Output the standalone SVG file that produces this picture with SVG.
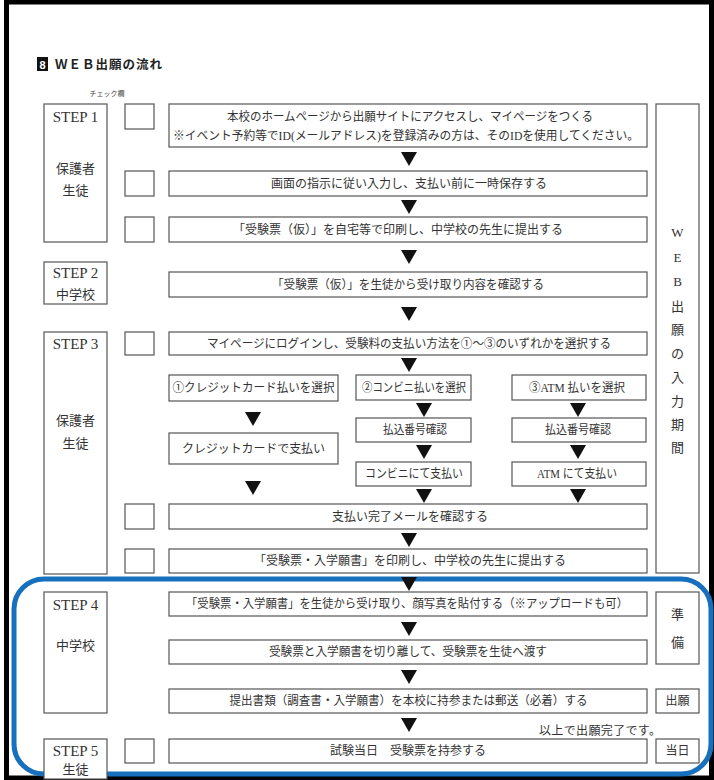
<svg xmlns="http://www.w3.org/2000/svg" width="714" height="780" viewBox="0 0 714 780">
<defs>
<style>
.bx{fill:#fff;stroke:#555;stroke-width:1.2}
.t{font-family:"Liberation Serif","Noto Sans CJK JP",serif;font-size:12px;fill:#333;text-anchor:middle}
.s{font-family:"Liberation Serif","Noto Sans CJK JP",serif;font-size:15px;fill:#333;text-anchor:middle}
.j{font-family:"Noto Sans CJK JP","Liberation Serif",serif;font-size:13px;fill:#333;text-anchor:middle}
.v{font-family:"Liberation Serif","Noto Sans CJK JP",serif;font-size:13px;fill:#333;text-anchor:middle}
</style>
<path id="tri" d="M-8,0 L8,0 L0,14 Z" fill="#111"/>
</defs>
<rect x="0" y="0" width="714" height="780" fill="#fff"/>
<rect x="6.5" y="2" width="705" height="776" fill="none" stroke="#000" stroke-width="5"/>

<g id="title">
<rect x="37" y="57" width="11" height="14" fill="#111"/>
<text x="42.5" y="68.5" font-family="Liberation Sans,sans-serif" font-size="11" font-weight="bold" fill="#fff" text-anchor="middle">8</text>
<text x="55" y="69" font-family="Noto Sans CJK JP,sans-serif" font-size="12.5" font-weight="bold" fill="#222" textLength="107" lengthAdjust="spacing">ＷＥＢ出願の流れ</text>
<text x="107" y="96" font-family="Noto Sans CJK JP,sans-serif" font-size="7" fill="#444" text-anchor="middle">チェック欄</text>
</g>

<g id="step1">
<rect class="bx" x="44" y="104" width="63" height="138"/>
<text class="s" x="75.5" y="122">STEP 1</text>
<text class="j" x="75.5" y="173">保護者</text>
<text class="j" x="75.5" y="195">生徒</text>
</g>
<g id="check1"><rect class="bx" x="125" y="104" width="29" height="25"/></g>
<g id="check2"><rect class="bx" x="125" y="171" width="29" height="25"/></g>
<g id="check3"><rect class="bx" x="125" y="217" width="29" height="25"/></g>
<g id="s1a">
<rect class="bx" x="169" y="104" width="478" height="43"/>
<text class="t" x="410" y="121" textLength="366" lengthAdjust="spacingAndGlyphs">本校のホームページから出願サイトにアクセスし、マイページをつくる</text>
<text class="t" x="406" y="140" textLength="466" lengthAdjust="spacingAndGlyphs">※イベント予約等でID(メールアドレス)を登録済みの方は、そのIDを使用してください。</text>
</g>
<g id="s1b">
<rect class="bx" x="169" y="171" width="478" height="25"/>
<text class="t" x="409" y="188">画面の指示に従い入力し、支払い前に一時保存する</text>
</g>
<g id="s1c">
<rect class="bx" x="169" y="217" width="478" height="25"/>
<text class="t" x="398" y="234" textLength="330" lengthAdjust="spacing">「受験票（仮）」を自宅等で印刷し、中学校の先生に提出する</text>
</g>

<g id="period">
<rect class="bx" x="656" y="104" width="43" height="469"/>
<text class="v" x="677.5" y="237">W</text>
<text class="v" x="677.5" y="262">E</text>
<text class="v" x="677.5" y="286">B</text>
<text class="v" x="677.5" y="311">出</text>
<text class="v" x="677.5" y="334">願</text>
<text class="v" x="677.5" y="358">の</text>
<text class="v" x="677.5" y="382">入</text>
<text class="v" x="677.5" y="406">力</text>
<text class="v" x="677.5" y="429">期</text>
<text class="v" x="677.5" y="452">間</text>
</g>

<g id="step2">
<rect class="bx" x="44" y="262" width="63" height="42"/>
<text class="s" x="75.5" y="278">STEP 2</text>
<text class="j" x="75.5" y="299">中学校</text>
</g>
<g id="s2a">
<rect class="bx" x="169" y="272" width="478" height="25"/>
<text class="t" x="408" y="289" textLength="272" lengthAdjust="spacingAndGlyphs">「受験票（仮）」を生徒から受け取り内容を確認する</text>
</g>

<g id="step3">
<rect class="bx" x="44" y="332" width="63" height="242"/>
<text class="s" x="75.5" y="349">STEP 3</text>
<text class="j" x="75.5" y="425">保護者</text>
<text class="j" x="75.5" y="448">生徒</text>
</g>
<g id="check4"><rect class="bx" x="125" y="332" width="29" height="23"/></g>
<g id="s3a">
<rect class="bx" x="169" y="332" width="478" height="23"/>
<text class="t" x="409" y="348" textLength="404" lengthAdjust="spacingAndGlyphs">マイページにログインし、受験料の支払い方法を①～③のいずれかを選択する</text>
</g>
<g id="credit1">
<rect class="bx" x="169" y="375" width="169" height="26"/>
<text class="t" x="253.5" y="392" textLength="162" lengthAdjust="spacingAndGlyphs">①クレジットカード払いを選択</text>
</g>
<g id="conv1">
<rect class="bx" x="356" y="375" width="115" height="25"/>
<text class="t" x="414" y="392" textLength="104" lengthAdjust="spacingAndGlyphs">②コンビニ払いを選択</text>
</g>
<g id="atm1">
<rect class="bx" x="512" y="375" width="134" height="25"/>
<text class="t" x="577" y="392" textLength="96" lengthAdjust="spacingAndGlyphs">③ATM 払いを選択</text>
</g>
<g id="conv2">
<rect class="bx" x="356" y="418" width="115" height="24"/>
<text class="t" x="415" y="434" textLength="64" lengthAdjust="spacingAndGlyphs">払込番号確認</text>
</g>
<g id="atm2">
<rect class="bx" x="512" y="418" width="134" height="24"/>
<text class="t" x="578" y="434" textLength="66" lengthAdjust="spacingAndGlyphs">払込番号確認</text>
</g>
<g id="credit2">
<rect class="bx" x="169" y="433" width="169" height="31"/>
<text class="t" x="253.5" y="453" textLength="143" lengthAdjust="spacing">クレジットカードで支払い</text>
</g>
<g id="conv3">
<rect class="bx" x="356" y="462" width="115" height="24"/>
<text class="t" x="414" y="478" textLength="98" lengthAdjust="spacingAndGlyphs">コンビニにて支払い</text>
</g>
<g id="atm3">
<rect class="bx" x="512" y="462" width="134" height="24"/>
<text class="t" x="577" y="478" textLength="80" lengthAdjust="spacingAndGlyphs">ATM にて支払い</text>
</g>
<g id="check5"><rect class="bx" x="125" y="504" width="29" height="25"/></g>
<g id="s3b">
<rect class="bx" x="169" y="504" width="478" height="25"/>
<text class="t" x="410" y="521">支払い完了メールを確認する</text>
</g>
<g id="check6"><rect class="bx" x="125" y="549" width="29" height="24"/></g>
<g id="s3c">
<rect class="bx" x="169" y="549" width="478" height="24"/>
<text class="t" x="410" y="565">「受験票・入学願書」を印刷し、中学校の先生に提出する</text>
</g>

<g id="highlight">
<rect x="14" y="579" width="697" height="195" rx="30" ry="30" fill="none" stroke="#1670bd" stroke-width="5"/>
</g>

<g id="step4">
<rect class="bx" x="44" y="592" width="63" height="121"/>
<text class="s" x="75.5" y="610">STEP 4</text>
<text class="j" x="75.5" y="650">中学校</text>
</g>
<g id="s4a">
<rect class="bx" x="169" y="592" width="478" height="24"/>
<text class="t" x="407" y="608" textLength="442" lengthAdjust="spacingAndGlyphs">「受験票・入学願書」を生徒から受け取り、顔写真を貼付する（※アップロードも可）</text>
</g>
<g id="s4b">
<rect class="bx" x="169" y="640" width="478" height="24"/>
<text class="t" x="408" y="656" textLength="278" lengthAdjust="spacingAndGlyphs">受験票と入学願書を切り離して、受験票を生徒へ渡す</text>
</g>
<g id="s4c">
<rect class="bx" x="169" y="689" width="478" height="24"/>
<text class="t" x="408.5" y="705" textLength="358" lengthAdjust="spacingAndGlyphs">提出書類（調査書・入学願書）を本校に持参または郵送（必着）する</text>
</g>
<g id="prep">
<rect class="bx" x="656" y="592" width="43" height="72"/>
<text class="v" x="677.5" y="619">準</text>
<text class="v" x="677.5" y="647">備</text>
</g>
<g id="apply">
<rect class="bx" x="656" y="689" width="43" height="24"/>
<text class="t" x="677.5" y="705">出願</text>
</g>
<text class="t" x="600" y="735" textLength="122" lengthAdjust="spacing">以上で出願完了です。</text>

<g id="step5">
<rect class="bx" x="44" y="739" width="63" height="40"/>
<text class="s" x="75.5" y="756">STEP 5</text>
<text class="j" x="75.5" y="774">生徒</text>
</g>
<g id="check7"><rect class="bx" x="125" y="739" width="29" height="24"/></g>
<g id="s5a">
<rect class="bx" x="169" y="739" width="478" height="24"/>
<text class="t" x="408" y="755">試験当日　受験票を持参する</text>
</g>
<g id="day">
<rect class="bx" x="656" y="739" width="43" height="24"/>
<text class="t" x="677.5" y="755">当日</text>
</g>

<g id="connectors">
<use href="#tri" x="409" y="152"/>
<use href="#tri" x="409" y="200"/>
<use href="#tri" x="409" y="250"/>
<use href="#tri" x="409" y="307"/>
<use href="#tri" x="409" y="358"/>
<use href="#tri" x="253" y="412"/>
<use href="#tri" x="253" y="481"/>
<use href="#tri" x="424" y="403"/>
<use href="#tri" x="424" y="445"/>
<use href="#tri" x="424" y="489"/>
<use href="#tri" x="578" y="403"/>
<use href="#tri" x="578" y="445"/>
<use href="#tri" x="578" y="489"/>
<use href="#tri" x="409" y="533"/>
<use href="#tri" x="409" y="577"/>
<use href="#tri" x="409" y="622"/>
<use href="#tri" x="409" y="670"/>
<use href="#tri" x="409" y="718"/>
</g>
</svg>
